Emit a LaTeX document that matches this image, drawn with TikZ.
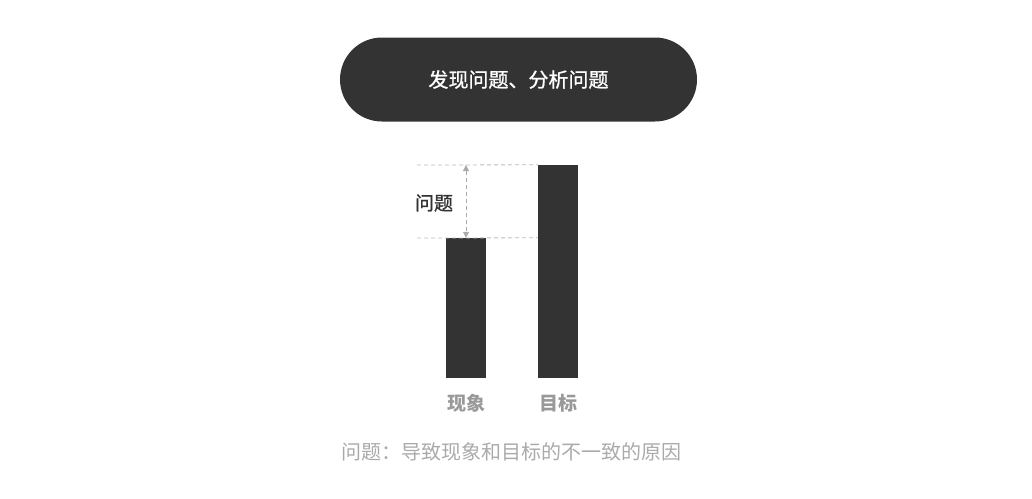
\documentclass[tikz,border=0pt]{standalone}
\usepackage{fontspec}
\newfontfamily\cjk{Noto Sans CJK SC}
\newfontfamily\cjkm[FakeBold=1]{Noto Sans CJK SC}
\usetikzlibrary{arrows.meta}
\definecolor{dark}{HTML}{333333}
\definecolor{lbl}{HTML}{999999}
\definecolor{note}{HTML}{AAAAAA}
\definecolor{dash}{HTML}{BBBBBB}
\tikzset{
  bar/.style={fill=dark,draw=none},
  guide/.style={draw=dash,dash pattern=on 4pt off 3pt,line width=0.8pt},
  gap/.style={draw=note,dash pattern=on 4pt off 3pt,line width=0.8pt,{Triangle[width=6pt,length=6pt]}-{Triangle[width=6pt,length=6pt]}},
  barlabel/.style={text=lbl,font=\cjk\bfseries\fontsize{19}{22}\selectfont,inner sep=0pt},
}
\begin{document}
\begin{tikzpicture}[x=1pt,y=-1pt]
\useasboundingbox (0,0) rectangle (1032,498);
\node[fill=dark,rounded corners=42pt,minimum width=357pt,minimum height=84pt,inner sep=0pt,text=white,font=\cjkm\fontsize{20}{24}\selectfont] (pill) at (518.5,79.5) {发现问题、分析问题};
\node[bar,minimum width=40pt,minimum height=140pt,inner sep=0pt] (now) at (466,308) {};
\node[bar,minimum width=40pt,minimum height=213pt,inner sep=0pt] (goal) at (558,271.5) {};
\coordinate (topl) at (417,165);
\coordinate (botl) at (417,238);
\draw[guide] (topl) -- (goal.north west);
\draw[guide] (botl) -- (goal.west |- now.north);
\coordinate (atop) at (466,165);
\draw[gap] (atop) -- (now.north);
\node[text=dark,font=\cjkm\fontsize{19}{22}\selectfont,inner sep=0pt] (prob) at (434,203) {问题};
\node[barlabel] (l1) at (466,403) {现象};
\node[barlabel] (l2) at (558,403) {目标};
\node[text=note,font=\cjk\fontsize{20}{24}\selectfont,inner sep=0pt] (cap) at (511,452) {问题：导致现象和目标的不一致的原因};
\end{tikzpicture}
\end{document}
